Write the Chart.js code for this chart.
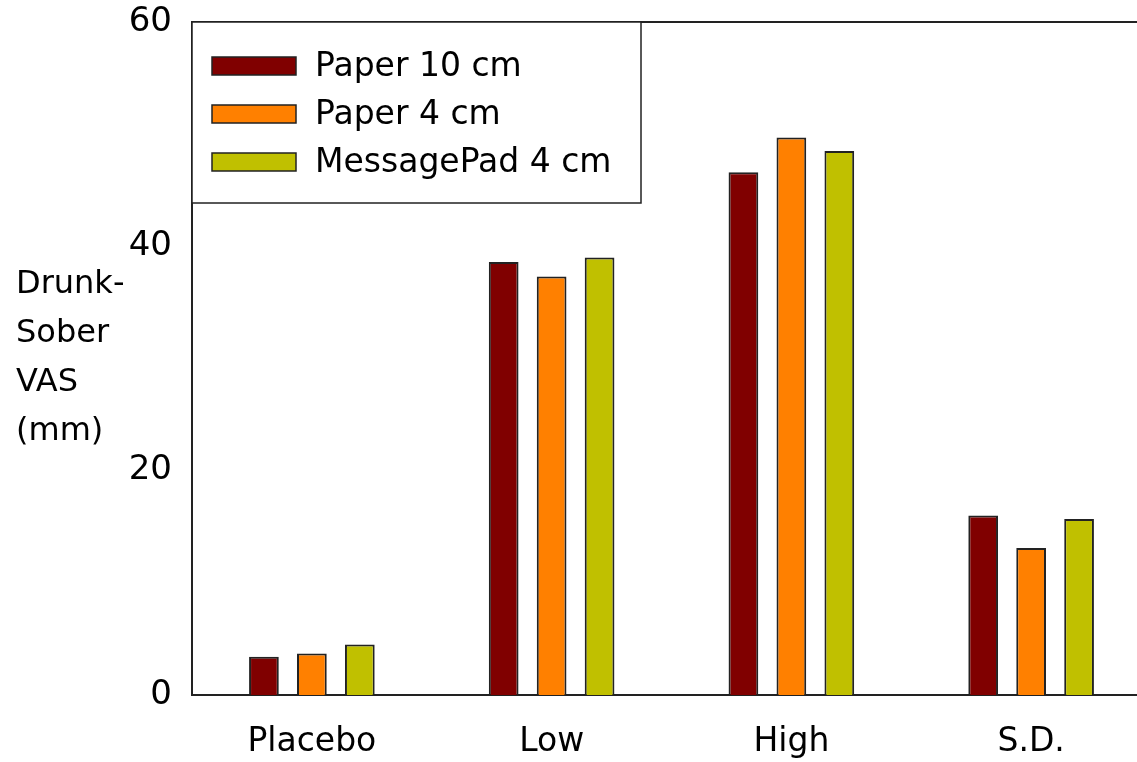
<!DOCTYPE html>
<html>
<head>
<meta charset="utf-8">
<script src="https://cdn.jsdelivr.net/npm/chart.js@4/dist/chart.umd.min.js"></script>
<style>
  html, body { margin: 0; padding: 0; background: #fff; overflow: hidden; }
  #wrap { width: 1160px; height: 762px; }
</style>
</head>
<body>
<div id="wrap"><canvas id="chart" width="1160" height="762"></canvas></div>
<script>
// Data
const categories = ["Placebo", "Low", "High", "S.D."];
const paper10 = [3.4, 38.6, 46.6, 16.0];
const paper4 = [3.7, 37.3, 49.7, 13.1];
const messagePad4 = [4.5, 39.0, 48.5, 15.7];
const seriesNames = ["Paper 10 cm", "Paper 4 cm", "MessagePad 4 cm"];
const yTicks = [0, 20, 40, 60];
const yTitleLines = ["Drunk-", "Sober", "VAS", "(mm)"];

const colors = ["#800000", "#FF8000", "#C0C000"];
const FONT = "'DejaVu Sans', sans-serif";

// Legend box, top frame line and y title
const decor = {
  id: "decor",
  afterDraw(chart) {
    const { ctx, chartArea } = chart;
    ctx.save();
    // top frame line
    ctx.strokeStyle = "#222";
    ctx.lineWidth = 2;
    ctx.beginPath();
    ctx.moveTo(chartArea.left, chartArea.top);
    ctx.lineTo(chartArea.right, chartArea.top);
    ctx.stroke();

    // legend box
    const bx = chartArea.left, by = chartArea.top, bw = 449, bh = 181;
    ctx.fillStyle = "#fff";
    ctx.fillRect(bx, by, bw, bh);
    ctx.lineWidth = 1.5;
    ctx.strokeRect(bx, by, bw, bh);
    ctx.font = "33px " + FONT;
    ctx.textBaseline = "middle";
    chart.data.datasets.forEach((ds, i) => {
      const cy = by + 44 + i * 48;
      ctx.fillStyle = ds.backgroundColor;
      ctx.fillRect(bx + 20, cy - 9, 84, 18);
      ctx.strokeStyle = "#222";
      ctx.lineWidth = 1.5;
      ctx.strokeRect(bx + 20, cy - 9, 84, 18);
      ctx.fillStyle = "#000";
      ctx.textAlign = "left";
      ctx.fillText(ds.label, bx + 123, cy + 1);
    });

    // y axis title, horizontal lines
    ctx.font = "32px " + FONT;
    ctx.fillStyle = "#000";
    ctx.textAlign = "left";
    ctx.textBaseline = "middle";
    yTitleLines.forEach((t, i) => {
      ctx.fillText(t, 16, 285 + i * 49);
    });
    ctx.restore();
  }
};

new Chart(document.getElementById("chart"), {
  type: "bar",
  data: {
    labels: categories,
    datasets: [
      { label: seriesNames[0], data: paper10, backgroundColor: colors[0] },
      { label: seriesNames[1], data: paper4, backgroundColor: colors[1] },
      { label: seriesNames[2], data: messagePad4, backgroundColor: colors[2] }
    ].map(d => Object.assign(d, {
      borderColor: "#222",
      borderWidth: 2,
      categoryPercentage: 0.6,
      barPercentage: 0.62
    }))
  },
  options: {
    responsive: false,
    animation: false,
    layout: { padding: { top: 22, right: 9, left: 0, bottom: 0 } },
    plugins: {
      legend: { display: false },
      tooltip: { enabled: false }
    },
    scales: {
      x: {
        grid: { display: false, drawTicks: false },
        border: { display: true, color: "#222", width: 2 },
        ticks: { color: "#000", font: { family: FONT, size: 33 }, padding: 28, maxRotation: 0 },
        afterFit(scale) {
          scale.height = 67;
          scale.paddingLeft = 0;
          scale.paddingRight = 0;
        }
      },
      y: {
        min: 0,
        max: 60,
        afterBuildTicks(scale) { scale.ticks = yTicks.map(v => ({ value: v })); },
        grid: { display: false, drawTicks: false },
        border: { display: true, color: "#222", width: 2 },
        ticks: { color: "#000", font: { family: FONT, size: 34 }, padding: 20 },
        afterFit(scale) {
          scale.width = 192;
          scale.paddingTop = 0;
          scale.paddingBottom = 0;
        }
      }
    }
  },
  plugins: [decor]
});
</script>
</body>
</html>
